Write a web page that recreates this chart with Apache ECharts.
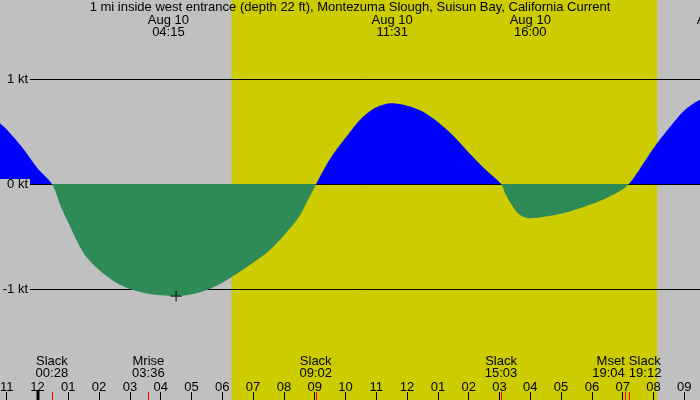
<!DOCTYPE html>
<html><head><meta charset="utf-8">
<script src="https://cdn.jsdelivr.net/npm/echarts@6/dist/echarts.min.js"></script>
<style>html,body{margin:0;padding:0;background:#c0c0c0}#c{width:700px;height:400px}</style>
</head><body><div id="c"></div>
<script>
const titleText = '1 mi inside west entrance (depth 22 ft), Montezuma Slough, Suisun Bay, California Current';
// hours since midnight Aug 10, current speed in knots (+ flood, - ebb)
const hours  = [-1.5, -1.0, -0.5, 0.0, 0.47, 0.75, 1.0, 1.5, 2.0, 2.5, 3.0, 3.5, 4.0, 4.5, 5.0, 5.5, 6.0, 6.5, 7.0, 7.5, 8.0, 8.5, 8.75, 9.05,
                9.5, 10.0, 10.5, 11.0, 11.5, 12.0, 12.5, 13.0, 13.5, 14.0, 14.5, 15.05,
                15.2, 15.4, 15.6, 15.8, 16.0, 16.5, 17.0, 17.5, 18.0, 18.5, 19.0, 19.2,
                19.5, 20.0, 20.5, 21.0, 21.5, 22.0];
const speeds = [0.65, 0.52, 0.35, 0.15, 0, -0.21, -0.37, -0.66, -0.82, -0.93, -1.00, -1.04, -1.06, -1.067, -1.05, -1.01, -0.94, -0.85, -0.75, -0.64, -0.49, -0.31, -0.17, 0,
                0.24, 0.44, 0.62, 0.73, 0.768, 0.745, 0.69, 0.59, 0.46, 0.30, 0.15, 0,
                -0.10, -0.20, -0.28, -0.315, -0.327, -0.31, -0.283, -0.24, -0.19, -0.13, -0.05, 0,
                0.12, 0.34, 0.53, 0.70, 0.80, 0.84];
const peakHours  = [4.25, 11.517, 16.0, 22.07];
const peakDates  = ['Aug 10', 'Aug 10', 'Aug 10', 'Aug 10'];
const peakTimes  = ['04:15', '11:31', '16:00', '22:04'];
const eventHours = [0.467, 3.6, 9.033, 15.05, 19.067, 19.2];
const eventNames = ['Slack', 'Mrise', 'Slack', 'Slack', 'Mset', 'Slack'];
const eventTimes = ['00:28', '03:36', '09:02', '15:03', '19:04', '19:12'];
const eventAlign = ['center', 'center', 'center', 'center', 'right', 'left'];
const midnightHours = [0];
const levels = [1, 0, -1];
const levelLabels = ['1 kt', '0 kt', '-1 kt'];
const daylight = [6.3, 20.12];
const markerPoint = [4.5, -1.067];

const FONT = '"Liberation Sans", Arial, sans-serif';
const FS = 13;
const chart = echarts.init(document.getElementById('c'), null, {renderer: 'canvas'});
const hourFmt = v => { let h = ((Math.round(v) % 12) + 12) % 12; if (h === 0) h = 12; return (h < 10 ? '0' : '') + h; };
const txt = (text, x, y, align) => ({type: 'text', style: {text: text, x: x, y: y, align: align, verticalAlign: 'middle',
                                     fill: '#000', fontSize: FS, fontFamily: FONT}});

chart.setOption({
  animation: false,
  backgroundColor: '#c0c0c0',
  textStyle: {fontFamily: FONT},
  title: {text: titleText, left: 'center', top: 0, padding: 0,
          textStyle: {fontSize: FS, fontWeight: 'normal', color: '#000', fontFamily: FONT, lineHeight: 14}},
  grid: {left: -24.1, width: 739.2, top: 0, height: 400, containLabel: false, outerBoundsMode: 'none'},
  xAxis: {type: 'value', min: -2, max: 22, interval: 1, z: 10,
          axisLine: {show: false, onZero: false},
          axisTick: {show: true, inside: true, length: 8, lineStyle: {color: '#000', width: 1}},
          axisLabel: {inside: true, margin: 6, color: '#000', fontSize: FS, fontFamily: FONT, formatter: hourFmt,
                      showMinLabel: true, showMaxLabel: true, hideOverlap: false},
          splitLine: {show: false}},
  yAxis: {type: 'value', min: -216/105, max: 184/105, show: false, splitLine: {show: false}},
  visualMap: {type: 'piecewise', show: false, dimension: 1, seriesIndex: 2,
              pieces: [{min: -10, max: 0, color: '#2e8b57'}, {gt: 0, max: 10, color: '#0000ff'}]},
  series: [
    {type: 'custom', z: 1, data: [daylight],
     renderItem: (params, api) => {
       const cs = params.coordSys;
       const x1 = api.coord([api.value(0), 0])[0];
       const x2 = api.coord([api.value(1), 0])[0];
       return {type: 'rect', shape: {x: x1, y: cs.y, width: x2 - x1, height: cs.height}, style: {fill: '#cccc00'}};
     }},
    {type: 'custom', z: 2, data: levels.map(v => [0, v]),
     renderItem: (params, api) => {
       const y = Math.round(api.coord([0, api.value(1)])[1]) + 0.5;
       const cs = params.coordSys;
       return {type: 'line', shape: {x1: 30, y1: y, x2: cs.x + cs.width, y2: y}, style: {stroke: '#000', lineWidth: 1}};
     }},
    {type: 'line', z: 3, data: hours.map((h, i) => [h, speeds[i]]),
     symbol: 'none', smooth: 0.3, lineStyle: {width: 0},
     areaStyle: {opacity: 1}},
    {type: 'scatter', z: 4, data: [markerPoint],
     symbol: 'path://M0,5L10,5M5,0L5,10', symbolSize: 11,
     itemStyle: {color: 'rgba(0,0,0,0)', borderColor: '#000', borderWidth: 1.2}},
    {type: 'custom', z: 5, data: levels.map(v => [0, v]),
     renderItem: (params, api) => {
       const i = params.dataIndex;
       const y = Math.round(api.coord([0, api.value(1)])[1]) + 0.5;
       return {type: 'group', children: [
         {type: 'rect', shape: {x: 0, y: y - 5.5, width: 30, height: 11.5}, style: {fill: '#c0c0c0'}},
         txt(levelLabels[i], 28, y, 'right')
       ]};
     }},
    {type: 'custom', z: 5, data: peakHours.map(h => [h, 0]),
     renderItem: (params, api) => {
       const i = params.dataIndex;
       const x = api.coord([api.value(0), 0])[0];
       return {type: 'group', children: [txt(peakDates[i], x, 20, 'center'), txt(peakTimes[i], x, 32, 'center')]};
     }},
    {type: 'custom', z: 5, data: eventHours.map(h => [h, 0]),
     renderItem: (params, api) => {
       const i = params.dataIndex;
       const xr = api.coord([api.value(0), 0])[0];
       const x = Math.round(xr) + 0.5;
       const cs = params.coordSys;
       const b = cs.y + cs.height;
       return {type: 'group', children: [
         {type: 'line', shape: {x1: x, y1: b - 8, x2: x, y2: b}, style: {stroke: '#ff0000', lineWidth: 1}},
         txt(eventNames[i], xr, 361.5, eventAlign[i]),
         txt(eventTimes[i], xr, 373.5, eventAlign[i])
       ]};
     }},
    {type: 'custom', z: 5, data: midnightHours.map(h => [h, 0]),
     renderItem: (params, api) => {
       const x = Math.round(api.coord([api.value(0), 0])[0]);
       const cs = params.coordSys;
       const b = cs.y + cs.height;
       return {type: 'rect', shape: {x: x - 1.5, y: b - 10, width: 3, height: 10}, style: {fill: '#000'}};
     }}
  ]
});
</script></body></html>
